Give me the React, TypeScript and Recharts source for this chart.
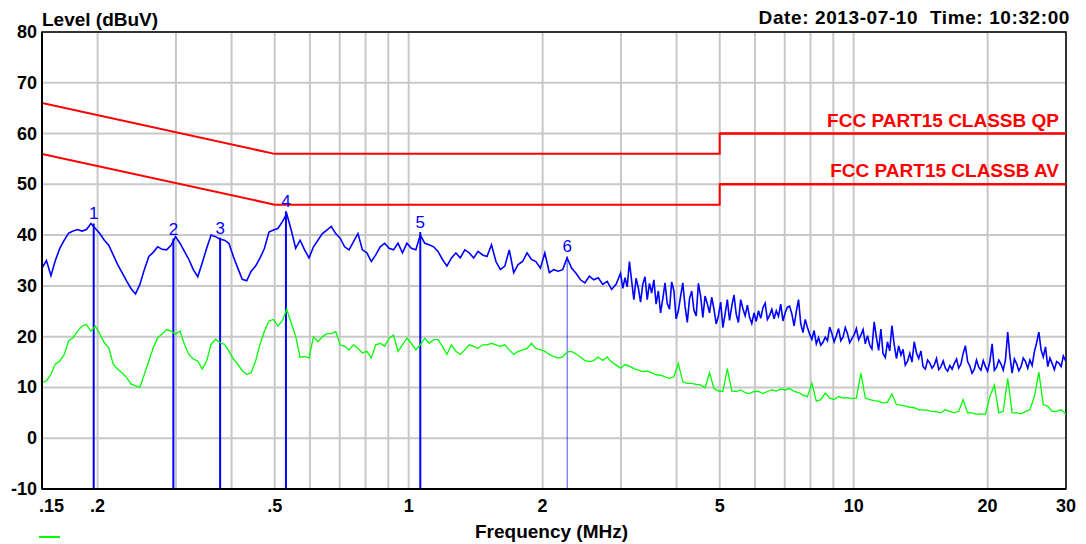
import React from 'react';
import {
  ComposedChart,
  Line,
  XAxis,
  YAxis,
  CartesianGrid,
  ReferenceLine,
  ReferenceArea,
} from 'recharts';

// Sweep frequencies (MHz)
const FREQ = [
  0.1500, 0.1535, 0.1571, 0.1607, 0.1645, 0.1683, 0.1722, 0.1762, 0.1803, 0.1845,
  0.1888, 0.1932, 0.1977, 0.2023, 0.2071, 0.2119, 0.2168, 0.2219, 0.2270, 0.2323,
  0.2377, 0.2433, 0.2489, 0.2547, 0.2607, 0.2667, 0.2730, 0.2793, 0.2858, 0.2925,
  0.2993, 0.3063, 0.3134, 0.3207, 0.3282, 0.3358, 0.3436, 0.3516, 0.3598, 0.3682,
  0.3768, 0.3856, 0.3945, 0.4037, 0.4131, 0.4228, 0.4326, 0.4427, 0.4530, 0.4635,
  0.4743, 0.4854, 0.4967, 0.5083, 0.5201, 0.5322, 0.5446, 0.5573, 0.5703, 0.5836,
  0.5972, 0.6111, 0.6253, 0.6399, 0.6548, 0.6700, 0.6856, 0.7016, 0.7179, 0.7347,
  0.7518, 0.7693, 0.7872, 0.8055, 0.8243, 0.8435, 0.8632, 0.8833, 0.9038, 0.9249,
  0.9464, 0.9685, 0.9910, 1.014, 1.038, 1.062, 1.087, 1.112, 1.138, 1.164,
  1.191, 1.219, 1.248, 1.277, 1.306, 1.337, 1.368, 1.400, 1.432, 1.466,
  1.500, 1.535, 1.571, 1.607, 1.645, 1.683, 1.722, 1.762, 1.803, 1.845,
  1.888, 1.932, 1.977, 2.023, 2.071, 2.119, 2.168, 2.219, 2.270, 2.323,
  2.377, 2.433, 2.489, 2.547, 2.607, 2.667, 2.730, 2.793, 2.858, 2.925,
  2.993, 3.063, 3.134, 3.207, 3.282, 3.358, 3.436, 3.516, 3.598, 3.682,
  3.768, 3.856, 3.945, 4.037, 4.131, 4.228, 4.326, 4.427, 4.530, 4.635,
  4.743, 4.854, 4.967, 5.083, 5.201, 5.322, 5.446, 5.573, 5.703, 5.836,
  5.972, 6.111, 6.253, 6.399, 6.548, 6.700, 6.856, 7.016, 7.179, 7.347,
  7.518, 7.693, 7.872, 8.055, 8.243, 8.435, 8.632, 8.833, 9.038, 9.249,
  9.464, 9.685, 9.910, 10.14, 10.38, 10.62, 10.87, 11.12, 11.38, 11.64,
  11.91, 12.19, 12.48, 12.77, 13.06, 13.37, 13.68, 14.00, 14.32, 14.66,
  15.00, 15.35, 15.71, 16.07, 16.45, 16.83, 17.22, 17.62, 18.03, 18.45,
  18.88, 19.32, 19.77, 20.23, 20.71, 21.19, 21.68, 22.19, 22.70, 23.23,
  23.77, 24.33, 24.89, 25.47, 26.07, 26.67, 27.30, 27.93, 28.58, 29.25,
  30.00,
];

// Peak trace (blue), dBuV, at FREQ
const PEAK = [
  33.5, 35, 32, 35, 37.4, 39, 40.4, 40.8, 41.1, 40.8,
  41.1, 42.3, 41.3, 40.3, 39, 38, 36.1, 34.2, 32.6, 31,
  29.5, 28.4, 30.3, 33.2, 35.8, 36.6, 37.7, 37.2, 37.1, 38,
  39.7, 38.4, 36.8, 35.2, 33.2, 31.8, 34.5, 37.4, 40, 39.7,
  39.2, 39, 38.4, 35.8, 33.5, 31.3, 31, 32.9, 33.9, 35.5,
  37.4, 40.6, 41, 41.3, 42.6, 44.2, 41, 37.4, 39, 37.1,
  35.5, 37.7, 39, 40.3, 41, 41.7, 40.3, 39.4, 37.7, 37.1,
  38.7, 40.3, 37.1, 36.5, 34.8, 36.1, 37.7, 38.4, 37.4, 37.1,
  38.4, 36.5, 38.4, 37.4, 37.1, 40, 38.4, 38.1, 37.7, 36.8,
  35.2, 33.9, 35.5, 36.5, 35.5, 37.1, 36.5, 35.5, 36.8, 36.1,
  35.8, 38.1, 34.8, 33.2, 33.9, 37.1, 32.6, 34.2, 34.8, 36.5,
  35.2, 34.8, 33.5, 36.5, 32.6, 33.2, 32.9, 33.2, 35.5, 33.5,
  32.5, 31.2, 30.6, 31.9, 31.2, 31.6, 30.3, 30.9, 29.3, 30.3,
  32.5, 31.6, 34.8, 27.3, 29.6, 30.3, 27.3, 28.6, 26.4, 24.7,
  30.6, 25.4, 29, 25.1, 30.6, 22.8, 29, 24.1, 28, 28,
  24.7, 25.4, 24.1, 21.8, 27.3, 26, 24.4, 27.3, 24.1, 23.8,
  24.7, 25.1, 25.7, 23.4, 25.4, 25.1, 26.4, 24.7, 26, 22.1,
  27.3, 20.8, 21.8, 19.5, 18.6, 18.3, 19.9, 21.9, 19, 21.6,
  19.9, 20.6, 19.6, 21.6, 20.3, 18.6, 18.3, 22.9, 17.3, 16.7,
  19, 22.2, 15.7, 16.4, 14.4, 16.7, 19, 15.7, 14.1, 15.4,
  13.8, 15.7, 14.1, 13.8, 14.3, 14.7, 13.8, 16.7, 15.1, 12.8,
  15.4, 13.4, 14.1, 15.1, 13.4, 15.4, 13.4, 20.9, 12.8, 14.7,
  14.1, 15.1, 15.4, 17, 20.9, 16, 14.1, 14.7, 15.1, 14.1,
  15.1,
];

// Extra peak-trace sweep points in the noisy 3-30 MHz band (MHz / dBuV)
const PEAK_X_F = [
  3.028, 3.098, 3.170, 3.244, 3.320, 3.397, 3.476, 3.557, 3.640, 3.725,
  3.811, 3.900, 3.991, 4.084, 4.179, 4.277, 4.376, 4.478, 4.582, 4.689,
  4.798, 4.910, 5.025, 5.142, 5.261, 5.384, 5.509, 5.638, 5.769, 5.903,
  6.041, 6.182, 6.325, 6.473, 6.624, 6.778, 6.936, 7.097, 7.263, 7.432,
  7.605, 7.782, 7.963, 8.149, 8.339, 8.533, 8.732, 8.935, 9.143, 9.356,
  9.574, 9.797, 10.03, 10.26, 10.50, 10.74, 10.99, 11.25, 11.51, 11.78,
  12.05, 12.33, 12.62, 12.91, 13.22, 13.52, 13.84, 14.16, 14.49, 14.83,
  15.17, 15.53, 15.89, 16.26, 16.64, 17.03, 17.42, 17.83, 18.24, 18.67,
  19.10, 19.55, 20.00, 20.47, 20.95, 21.43, 21.93, 22.44, 22.97, 23.50,
  24.05, 24.61, 25.18, 25.77, 26.37, 26.98, 27.61, 28.25, 28.91, 29.59,
];
const PEAK_X = [
  29.5, 29.8, 31, 31.5, 26.8, 31.8, 30.5, 31.2, 29, 27.5,
  26.5, 30.8, 23.5, 28, 26, 27.5, 25.2, 30.5, 23.8, 26.5,
  27.8, 22.5, 26.8, 24.5, 23.2, 28.2, 22.8, 25.5, 26.2, 22.6,
  23, 23.6, 26.6, 24.2, 23.5, 24, 23.1, 25.8, 24.5, 25,
  22.5, 23.4, 20.5, 21.2, 19.8, 18.9, 19.2, 20.6, 20.2, 19.2,
  21.8, 18.8, 20.4, 19.4, 21.4, 20.2, 17.6, 19.8, 21.5, 15.9,
  17.2, 18.5, 18.2, 17.5, 15.2, 15, 16.8, 17.2, 13.6, 14.8,
  14.4, 13.5, 15.2, 13.2, 13.6, 15.6, 14.6, 18.2, 14.2, 13.6,
  14, 15.3, 13.2, 18.6, 14, 14.6, 15.4, 16.2, 15.6, 13.3,
  15.8, 13.8, 14.3, 18.8, 17.4, 18, 15.8, 13.5, 14.8, 16.2,
];

// Average trace (green), dBuV, at FREQ
const AVG = [
  11, 11.3, 12.6, 14.6, 15.2, 16.5, 19.2, 19.8, 21.1, 22.1,
  22.4, 21.1, 22.1, 20.5, 18.8, 17.8, 14.6, 13.6, 12.9, 12,
  10.7, 10.3, 10, 12.6, 15.2, 17.8, 19.8, 20.5, 21.4, 21.1,
  20.5, 21.1, 18.5, 16.5, 15.6, 15.2, 13.6, 15.2, 18.5, 19.5,
  18.8, 18.5, 17.2, 15.6, 14.6, 13.3, 12.6, 12.9, 15.2, 18.5,
  21.1, 23.1, 23.4, 22.1, 23.1, 25.4, 22.7, 20.1, 15.9, 16.1,
  15.8, 20, 19, 20, 20.6, 20.6, 21, 18.4, 18.1, 17.4,
  18.4, 17.7, 16.8, 17.1, 15.8, 18.4, 18.7, 18.1, 19.7, 20.3,
  17.1, 18.4, 19.7, 18.7, 17.4, 18.4, 19.7, 18.7, 19.4, 19.4,
  18.1, 16.5, 18.4, 17.1, 16.5, 17.4, 18.4, 18.1, 17.7, 18.4,
  18.4, 18.7, 18.4, 18.1, 18.4, 17.4, 16.5, 17.1, 17.4, 17.7,
  18.7, 17.7, 17.4, 17.1, 16.5, 16.1, 15.8, 16, 17, 17.1,
  16.6, 16, 15.3, 15.1, 15.3, 16, 15.3, 16, 15, 14.4,
  13.8, 14.5, 14.2, 13.7, 13.4, 13.1, 13.2, 12.9, 12.5, 12.4,
  12.1, 11.8, 12.1, 14.7, 11.1, 10.8, 10.8, 10.6, 10.5, 9.9,
  12.9, 9.8, 9.3, 9.2, 13.7, 9.3, 9.2, 9.5, 9, 8.8,
  9.2, 9.2, 8.8, 9.2, 9.5, 9.3, 9.7, 9.5, 9.8, 9.2,
  9, 8.5, 8.2, 10.8, 7.3, 7.6, 8.9, 7.9, 7.6, 8.2,
  7.9, 8, 7.8, 7.9, 12.8, 7.9, 7.6, 7.4, 7.3, 6.9,
  7.1, 8.7, 6.6, 6.5, 6.3, 6.1, 6, 5.6, 5.6, 5.5,
  5.3, 5.2, 5, 5.6, 5.3, 5, 5.3, 7.6, 5, 5,
  4.7, 4.8, 4.7, 8.2, 10.5, 5, 5.3, 11.8, 5, 5,
  4.8, 5.3, 5.6, 8.2, 13, 6.6, 6.3, 5.3, 5.3, 5.6,
  4.7,
];

// Limit lines
const QP_F = [0.15, 0.5, 5, 5, 30];
const QP_V = [66, 56, 56, 60, 60];
const AV_F = [0.15, 0.5, 5, 5, 30];
const AV_V = [56, 46, 46, 50, 50];
const QP_NAME = 'FCC PART15 CLASSB QP';
const AV_NAME = 'FCC PART15 CLASSB AV';

// Markers
const MARK_F = [0.196, 0.296, 0.377, 0.530, 1.062, 2.271];
const MARK_V = [42.3, 39.3, 39.5, 44.7, 40.6, 35.8];
const MARK_LABEL = ['1', '2', '3', '4', '5', '6'];

// Axes
const X_GRID = [0.15, 0.2, 0.3, 0.4, 0.5, 0.6, 0.7, 0.8, 0.9, 1, 2, 3, 4, 5, 6, 7, 8, 9, 10, 20, 30];
const X_LABEL_VALUES = [0.15, 0.2, 0.5, 1, 2, 5, 10, 20, 30];
const X_LABEL_TEXT = ['.15', '.2', '.5', '1', '2', '5', '10', '20', '30'];
const Y_TICKS = [-10, 0, 10, 20, 30, 40, 50, 60, 70, 80];

const FONT = '"Liberation Sans", Arial, Helvetica, sans-serif';

const XTick = (props: any) => {
  const { x, y, payload } = props;
  const idx = X_LABEL_VALUES.indexOf(payload.value);
  if (idx < 0) return <g />;
  const isFirst = idx === 0;
  return (
    <text
      x={isFirst ? x - 3 : x}
      y={y + 23}
      textAnchor={isFirst ? 'start' : 'middle'}
      fontFamily={FONT}
      fontWeight="bold"
      fontSize={18}
      fill="#000"
    >
      {X_LABEL_TEXT[idx]}
    </text>
  );
};

const YTick = (props: any) => {
  const { x, y, payload } = props;
  return (
    <text
      x={x - 5}
      y={y + 6}
      textAnchor="end"
      fontFamily={FONT}
      fontWeight="bold"
      fontSize={18}
      fill="#000"
    >
      {payload.value}
    </text>
  );
};

export default function App() {
  const rows = FREQ.map((f, i) => ({ f, avg: AVG[i] }));
  const peakRows = FREQ.map((f, i) => ({ f, v: PEAK[i] }))
    .concat(PEAK_X_F.map((f, i) => ({ f, v: PEAK_X[i] })))
    .sort((a, b) => a.f - b.f);
  const qp = QP_F.map((f, i) => ({ f, v: QP_V[i] }));
  const av = AV_F.map((f, i) => ({ f, v: AV_V[i] }));
  const lastQ = QP_F.length - 1;
  const lastA = AV_F.length - 1;

  return (
    <div
      style={{
        position: 'relative',
        width: 1070,
        height: 536,
        fontFamily: FONT,
        background: '#fff',
      }}
    >
      <ComposedChart
        width={1070}
        height={536}
        data={rows}
        margin={{ top: 24, right: 12, left: 0, bottom: 25 }}
      >
        <CartesianGrid stroke="#c8c8c8" strokeWidth={2} />
        <XAxis
          dataKey="f"
          type="number"
          scale="log"
          domain={[0.15, 30]}
          allowDataOverflow
          ticks={X_GRID}
          interval={0}
          tick={<XTick />}
          tickLine={false}
          tickSize={0}
          tickMargin={0}
          height={30}
          axisLine={{ stroke: '#000', strokeWidth: 2 }}
        />
        <YAxis
          type="number"
          domain={[-10, 80]}
          ticks={Y_TICKS}
          interval={0}
          tick={<YTick />}
          tickLine={false}
          tickSize={0}
          tickMargin={0}
          width={34}
          axisLine={{ stroke: '#000', strokeWidth: 2 }}
          allowDataOverflow
        />
        <ReferenceArea
          x1={0.15}
          x2={30}
          y1={-10}
          y2={80}
          fill="none"
          fillOpacity={0}
          stroke="#000"
          strokeWidth={1.5}
        />
        {MARK_F.map((f, i) => (
          <ReferenceLine
            key={'m' + i}
            segment={[
              { x: f, y: MARK_V[i] },
              { x: f, y: -10 },
            ]}
            stroke="#0000ff"
            strokeWidth={i === 5 ? 1 : 2}
            strokeOpacity={i === 5 ? 0.7 : 1}
            label={{
              value: MARK_LABEL[i],
              position: 'top',
              offset: 4,
              fill: '#0000ff',
              fontSize: 17,
              fontFamily: FONT,
            }}
          />
        ))}
        <Line
          data={qp}
          dataKey="v"
          type="linear"
          stroke="#ff0000"
          strokeWidth={2}
          dot={false}
          isAnimationActive={false}
        />
        <Line
          data={av}
          dataKey="v"
          type="linear"
          stroke="#ff0000"
          strokeWidth={2}
          dot={false}
          isAnimationActive={false}
        />
        <ReferenceLine
          segment={[
            { x: QP_F[lastQ - 1], y: QP_V[lastQ] },
            { x: QP_F[lastQ], y: QP_V[lastQ] },
          ]}
          stroke="#ff0000"
          strokeWidth={2}
          label={{
            value: QP_NAME,
            position: 'insideBottomRight',
            offset: 7,
            fill: '#ff0000',
            fontSize: 19,
            fontWeight: 'bold',
            fontFamily: FONT,
          }}
        />
        <ReferenceLine
          segment={[
            { x: AV_F[lastA - 1], y: AV_V[lastA] },
            { x: AV_F[lastA], y: AV_V[lastA] },
          ]}
          stroke="#ff0000"
          strokeWidth={2}
          label={{
            value: AV_NAME,
            position: 'insideBottomRight',
            offset: 7,
            fill: '#ff0000',
            fontSize: 19,
            fontWeight: 'bold',
            fontFamily: FONT,
          }}
        />
        <Line
          dataKey="avg"
          type="linear"
          stroke="#00ff00"
          strokeWidth={1.3}
          dot={false}
          isAnimationActive={false}
        />
        <Line
          data={peakRows}
          dataKey="v"
          type="linear"
          stroke="#0000ff"
          strokeWidth={1.6}
          dot={false}
          isAnimationActive={false}
        />
      </ComposedChart>
      <div
        style={{
          position: 'absolute',
          left: 34,
          top: 2,
          fontSize: 19,
          fontWeight: 'bold',
          lineHeight: '19px',
          color: '#000',
          whiteSpace: 'nowrap',
        }}
      >
        Level (dBuV)
      </div>
      <div
        style={{
          position: 'absolute',
          right: 8,
          top: 0,
          fontSize: 19,
          fontWeight: 'bold',
          lineHeight: '19px',
          letterSpacing: 0.6,
          color: '#000',
          whiteSpace: 'pre',
        }}
      >
        {'Date: 2013-07-10  Time: 10:32:00'}
      </div>
      <div
        style={{
          position: 'absolute',
          left: 467,
          top: 514,
          fontSize: 19,
          fontWeight: 'bold',
          lineHeight: '19px',
          color: '#000',
          whiteSpace: 'nowrap',
        }}
      >
        Frequency (MHz)
      </div>
      <div
        style={{
          position: 'absolute',
          left: 31,
          top: 528,
          width: 21,
          height: 2,
          background: '#00ff00',
        }}
      />
    </div>
  );
}
